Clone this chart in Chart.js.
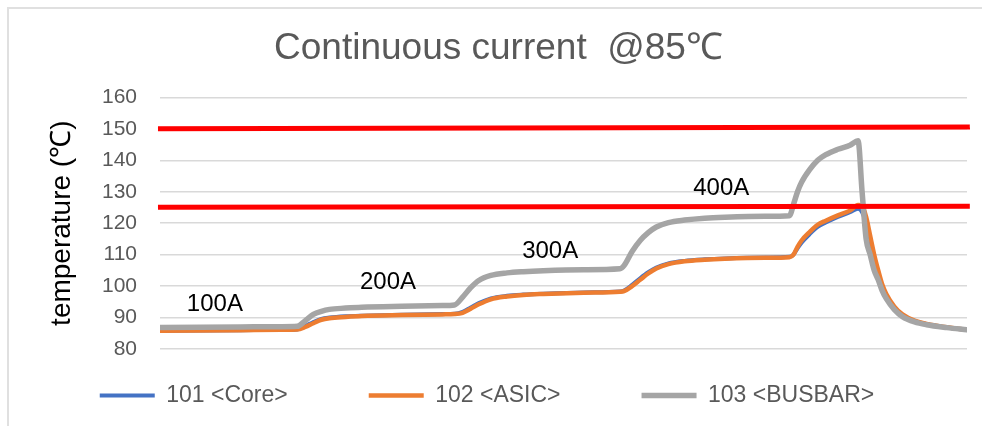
<!DOCTYPE html>
<html>
<head>
<meta charset="utf-8">
<script src="https://cdn.jsdelivr.net/npm/chart.js@4.4.1/dist/chart.umd.min.js"></script>
<style>
  html, body { margin: 0; padding: 0; background: #fff; }
  #wrap { position: relative; width: 982px; height: 426px; overflow: hidden; }
  #frame { position: absolute; left: 7px; top: 7px; width: 990px; height: 430px; border: 2px solid #e0e0e0; }
  canvas { position: absolute; left: 0; top: 0; }
</style>
</head>
<body>
<div id="wrap">
  <div id="frame"></div>
  <canvas id="chart" width="982" height="426"></canvas>
</div>
<script>
// time axis (hidden), arbitrary minutes over the test run
const timeMin = [0, 10, 20, 30, 34, 36, 38, 40, 42, 46, 50, 60, 70, 73, 75, 77, 79, 82, 86, 90, 95, 105,
  114, 115, 117, 119, 121, 123, 126, 130, 135, 140, 150, 156, 157, 158, 159, 161, 163, 165, 168, 171,
  173, 174, 175, 176, 177, 178, 179, 180, 182, 184, 187, 190, 195, 200];

const core101 = [85.8, 85.9, 86.0, 86.1, 86.2, 87.3, 88.6, 89.6, 90.0, 90.4, 90.6, 90.9, 91.1, 91.2, 91.8,
  93.2, 94.6, 96.1, 96.9, 97.3, 97.6, 98.0, 98.3, 98.6, 100.4, 102.5, 104.4, 105.9, 107.2, 108.0, 108.5,
  108.8, 109.1, 109.3, 110.0, 112.0, 113.8, 116.5, 118.8, 120.2, 122.0, 123.5, 124.6, 123.5, 120.0, 114.0,
  108.5, 103.8, 99.8, 97.0, 93.2, 90.8, 88.9, 87.9, 86.8, 86.0];

const asic102 = [85.8, 85.9, 86.0, 86.1, 86.2, 87.0, 88.2, 89.3, 89.8, 90.2, 90.5, 90.8, 91.0, 91.1, 91.5,
  92.8, 94.2, 95.8, 96.7, 97.2, 97.5, 97.9, 98.2, 98.4, 100.0, 102.0, 104.0, 105.6, 107.0, 107.9, 108.4,
  108.7, 109.0, 109.2, 110.0, 112.5, 114.5, 117.2, 119.5, 120.8, 122.5, 124.0, 125.8, 125.5, 122.0, 116.0,
  110.0, 105.0, 100.5, 97.5, 93.5, 91.0, 89.0, 88.0, 86.9, 86.1];

const busbar103 = [86.8, 86.9, 87.0, 87.1, 87.2, 89.0, 91.0, 92.0, 92.6, 93.0, 93.3, 93.6, 93.8, 94.0, 96.5,
  99.5, 101.8, 103.4, 104.2, 104.6, 104.9, 105.2, 105.5, 106.5, 111.0, 114.5, 117.0, 118.8, 120.2, 121.0,
  121.6, 121.9, 122.2, 122.4, 126.0, 130.0, 133.0, 137.0, 140.0, 141.8, 143.5, 144.8, 146.2, 130.0, 115.0,
  110.0, 105.0, 102.0, 98.5, 96.0, 92.5, 90.3, 88.6, 87.7, 86.8, 86.1];

// limit lines (start / end value)
const limit150 = [150.0, 150.6];
const limit125 = [125.1, 125.4];
const limitTime = [-0.5, 200.7];

// current step labels, in data units
const currentSteps = ['100A', '200A', '300A', '400A'];
const stepLabelTime = [13.6, 56.5, 96.7, 139.1];
const stepLabelTemp = [94.1, 101.1, 111.0, 131.0];

const toPoints = (xs, ys) => ys.map((y, i) => ({ x: xs[i], y }));

Chart.defaults.font.family = '"Liberation Sans", Arial, sans-serif';

const stepLabels = {
  id: 'stepLabels',
  afterDatasetsDraw(chart) {
    const { ctx, scales: { x, y } } = chart;
    ctx.save();
    ctx.font = '24px "Liberation Sans", Arial, sans-serif';
    ctx.fillStyle = '#000';
    ctx.textAlign = 'center';
    ctx.textBaseline = 'middle';
    currentSteps.forEach((t, i) => {
      ctx.fillText(t, x.getPixelForValue(stepLabelTime[i]), y.getPixelForValue(stepLabelTemp[i]));
    });
    ctx.restore();
  }
};

const line = (label, data, color, width, order) => ({
  label, data, borderColor: color, backgroundColor: color, borderWidth: width,
  pointRadius: 0, cubicInterpolationMode: 'monotone', borderCapStyle: 'round',
  borderJoinStyle: 'round', order
});

new Chart(document.getElementById('chart'), {
  type: 'line',
  data: {
    datasets: [
      line('101 <Core>', toPoints(timeMin, core101), '#4472C4', 4, 3),
      line('102 <ASIC>', toPoints(timeMin, asic102), '#ED7D31', 4.5, 2),
      line('103 <BUSBAR>', toPoints(timeMin, busbar103), '#A5A5A5', 5.5, 1),
      { ...line('limit150', toPoints(limitTime, limit150), '#FF0000', 5, 0), borderCapStyle: 'butt', clip: false },
      { ...line('limit125', toPoints(limitTime, limit125), '#FF0000', 5, 0), borderCapStyle: 'butt', clip: false }
    ]
  },
  options: {
    responsive: false,
    animation: false,
    layout: { padding: { top: 10, left: 30, right: 15, bottom: 9 } },
    plugins: {
      title: {
        display: true,
        text: 'Continuous current  @85℃',
        color: '#595959',
        font: { size: 37, weight: 'normal' },
        padding: { top: 17, bottom: 26 }
      },
      legend: {
        position: 'bottom',
        labels: {
          usePointStyle: true,
          pointStyle: 'line',
          pointStyleWidth: 55,
          padding: 12,
          color: '#595959',
          font: { size: 23 },
          filter: item => item.datasetIndex < 3,
          sort: (a, b) => a.datasetIndex - b.datasetIndex,
          generateLabels(chart) {
            const items = Chart.defaults.plugins.legend.labels.generateLabels(chart);
            items.forEach(it => {
              if (it.datasetIndex < 2) it.text += '\u2003\u2003\u2003';
              else if (it.datasetIndex === 2) it.text += '\u2003';
            });
            return items;
          }
        }
      },
      tooltip: { enabled: false }
    },
    scales: {
      x: {
        type: 'linear', min: 0, max: 200,
        ticks: { display: false },
        grid: { display: false },
        border: { display: false },
        afterFit(s) { s.height = 23; }
      },
      y: {
        min: 80, max: 160,
        ticks: { stepSize: 10, color: '#595959', font: { size: 21 }, padding: 23 },
        grid: { color: '#d9d9d9', lineWidth: 1.5, drawTicks: false },
        border: { display: false },
        title: {
          display: true, text: 'temperature (℃)', color: '#000',
          font: { size: 28 }, padding: { top: 15, bottom: 0 }
        },
        afterFit(s) { s.width = 130; }
      }
    }
  },
  plugins: [stepLabels]
});
</script>
</body>
</html>
